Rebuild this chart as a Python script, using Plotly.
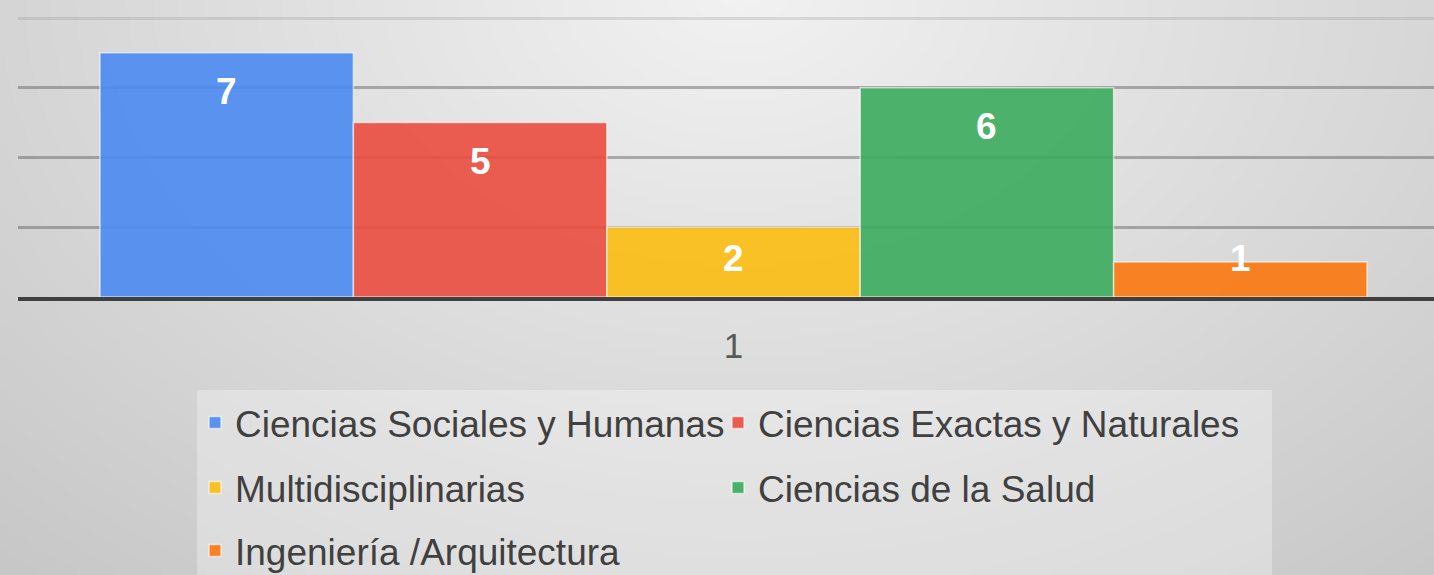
import base64
import struct
import zlib

import numpy as np
import plotly.graph_objects as go

# ---------------- data ----------------
categories = ["1"]
series_names = [
    "Ciencias Sociales y Humanas",
    "Ciencias Exactas y Naturales",
    "Multidisciplinarias",
    "Ciencias de la Salud",
    "Ingeniería /Arquitectura",
]
series_values = [7, 5, 2, 6, 1]
series_colors = [
    "rgba(75,137,242,0.9)",
    "rgba(233,76,62,0.9)",
    "rgba(251,188,17,0.9)",
    "rgba(59,171,93,0.9)",
    "rgba(251,119,15,0.9)",
]
grid_major = [2, 4, 6]
grid_minor = [8]

# ---------------- layout constants ----------------
W, H = 1434, 575
ML, MR, MT, MB = 18, 0, 0, 278
PW, PH = W - ML - MR, H - MT - MB
Y_MAX = 8.516
BARGAP = 0.1052
X_RANGE = [-0.5053, 0.4947]
LABEL_OFFSET = 1.12   # label centre below bar top (y units)
LABEL_FLOOR = 1.09    # lowest label centre (y units)
FONT = "Liberation Sans, Arial, Helvetica, sans-serif"


def px_x(p):
    return (p - ML) / PW


def px_y(p):
    return (PH + MT - p) / PH


# ---------------- background gradient (png) ----------------
def gray_png(a):
    h, w = a.shape
    raw = b"".join(b"\x00" + a[r].tobytes() for r in range(h))

    def chunk(t, d):
        c = struct.pack(">I", len(d)) + t + d
        return c + struct.pack(">I", zlib.crc32(t + d) & 0xFFFFFFFF)

    return (b"\x89PNG\r\n\x1a\n"
            + chunk(b"IHDR", struct.pack(">IIBBBBB", w, h, 8, 0, 0, 0, 0))
            + chunk(b"IDAT", zlib.compress(raw, 9))
            + chunk(b"IEND", b""))


S = 4
gh, gw = H // S + 1, W // S + 1
Y, X = np.mgrid[0:gh, 0:gw].astype(float) * S
val = 242 - np.sqrt((0.0389 * (X - 740)) ** 2 + (0.0545 * (Y + 10)) ** 2)
img = np.clip(val, 0, 255).astype(np.uint8)
src = "data:image/png;base64," + base64.b64encode(gray_png(img)).decode()

# ---------------- figure ----------------
fig = go.Figure()
legend_of = ["legend", "legend", "legend2", "legend2", "legend3"]
for name, v, c, lg in zip(series_names, series_values, series_colors, legend_of):
    fig.add_trace(go.Bar(
        x=categories, y=[v], name=name,
        marker=dict(color=c, line=dict(color="rgba(255,255,255,0.6)", width=1.5)),
        legend=lg, hoverinfo="name+y",
    ))

n = len(series_values)
w = (1 - BARGAP) / n
annotations = []
for i, v in enumerate(series_values):
    annotations.append(dict(
        x=0 + (i - (n - 1) / 2) * w, y=max(v - LABEL_OFFSET, LABEL_FLOOR),
        xref="x", yref="y", text=str(v), showarrow=False,
        yanchor="middle", xanchor="center",
        font=dict(family=FONT, size=37, color="white", weight="bold"),
    ))

legend_common = dict(
    orientation="h", xanchor="left", yanchor="middle",
    x=px_x(195), bgcolor="rgba(0,0,0,0)",
    font=dict(family=FONT, size=37, color="#404040"),
    entrywidth=478, entrywidthmode="pixels",
)

fig.update_layout(
    width=W, height=H,
    margin=dict(l=ML, r=MR, t=MT, b=MB, pad=0, autoexpand=False),
    paper_bgcolor="rgba(0,0,0,0)", plot_bgcolor="rgba(0,0,0,0)",
    barmode="group", bargap=BARGAP, bargroupgap=0,
    showlegend=True,
    legend=dict(legend_common, y=px_y(423)),
    legend2=dict(legend_common, y=px_y(488)),
    legend3=dict(legend_common, y=px_y(551)),
    xaxis=dict(
        type="category", range=X_RANGE, showgrid=False, zeroline=False,
        showline=True, linecolor="#404040", linewidth=4, ticks="",
        tickfont=dict(family=FONT, size=35, color="#595959"),
        ticklabelstandoff=15, automargin=False,
    ),
    yaxis=dict(
        range=[0, Y_MAX], tickmode="array", tickvals=grid_major,
        showticklabels=False, ticks="", zeroline=False, automargin=False,
        showgrid=True, gridcolor="rgba(90,90,90,0.45)", gridwidth=3,
        minor=dict(tickmode="array", tickvals=grid_minor, showgrid=True,
                   gridcolor="rgba(140,140,140,0.25)", gridwidth=3, ticks=""),
    ),
    images=[dict(
        source=src, xref="paper", yref="paper",
        x=-ML / PW, y=1 + MT / PH, sizex=W / PW, sizey=H / PH,
        xanchor="left", yanchor="top", sizing="stretch", layer="below",
    )],
    shapes=[dict(
        type="rect", xref="paper", yref="paper",
        x0=px_x(197), x1=px_x(1272), y0=px_y(390), y1=px_y(590),
        fillcolor="rgba(255,255,255,0.3)", line=dict(width=0), layer="below",
    )],
    annotations=annotations,
)

fig.write_html(
    "out.html",
    config={"displayModeBar": False},
    post_script="document.body.style.margin='0';document.body.style.overflow='hidden';",
)
